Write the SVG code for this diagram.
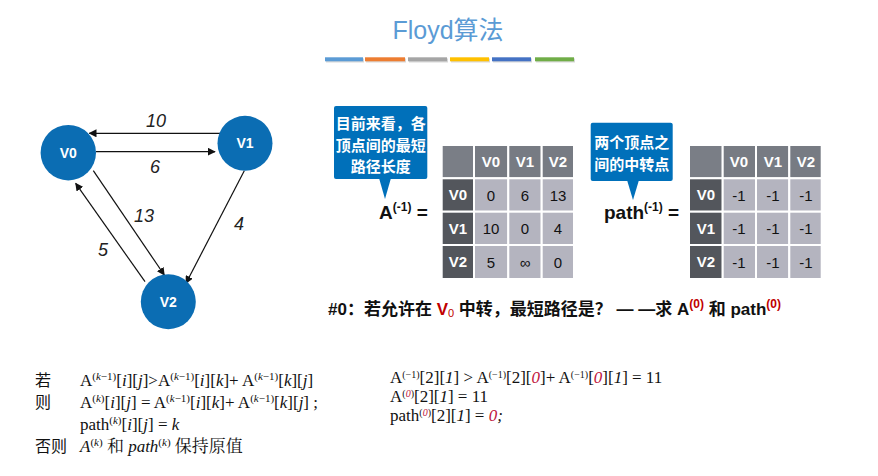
<svg xmlns="http://www.w3.org/2000/svg" width="878" height="476" viewBox="0 0 878 476">
<style>
.title{font-family:"Liberation Sans","Noto Sans CJK SC",sans-serif;font-size:25px;fill:#5B9BD5}
.node circle{fill:#0B6DB3}
.node text{font-family:"Liberation Sans",sans-serif;font-weight:bold;font-size:14px;fill:#fff;text-anchor:middle}
.edge{stroke:#111;stroke-width:1.2;fill:none;marker-end:url(#ah)}
.elab{font-family:"Liberation Sans",sans-serif;font-style:italic;font-size:18px;fill:#222;text-anchor:middle}
.call rect,.call path{fill:#0070BA}
.call text{font-family:"Noto Sans CJK SC",sans-serif;font-weight:bold;font-size:15px;fill:#fff;text-anchor:middle}
.eq{font-family:"Liberation Sans",sans-serif;font-weight:bold;font-size:19px;fill:#111}
.corner{fill:#7A7E86;stroke:#fff;stroke-width:2}
.ch{fill:#777B83;stroke:#fff;stroke-width:2}
.rh{fill:#53565C;stroke:#fff;stroke-width:2}
.cell{fill:#B4B4BF;stroke:#fff;stroke-width:2}
.th{font-family:"Liberation Sans",sans-serif;font-weight:bold;font-size:15px;fill:#fff;text-anchor:middle}
.td{font-family:"Liberation Sans",sans-serif;font-size:15px;fill:#111;text-anchor:middle}
.q{font-family:"Liberation Sans","Noto Sans CJK SC",sans-serif;font-weight:bold;font-size:17px;fill:#111}
.red{fill:#C00000}
.tm{font-family:"Liberation Serif","Noto Serif CJK SC","Noto Sans CJK SC",serif;font-size:17px;fill:#111}
.cj{font-family:"Noto Sans CJK SC",sans-serif;font-size:16px;fill:#111}
.it{font-style:italic}
.rr{fill:#C0143C}
</style>
<defs>
<marker id="ah" viewBox="0 0 10 10" refX="9" refY="5" markerWidth="8" markerHeight="8" markerUnits="userSpaceOnUse" orient="auto">
<path d="M0,0 L10,5 L0,10 z" fill="#111"/>
</marker>
</defs>
<rect width="878" height="476" fill="#fff"/>
<text class="title" x="448" y="39" text-anchor="middle">Floyd算法</text>
<g id="bars">
<g fill="#d8d8d8"><rect x="326" y="58.5" width="38" height="4"/><rect x="366" y="58.5" width="40" height="4"/><rect x="409" y="58.5" width="39" height="4"/><rect x="451" y="58.5" width="39" height="4"/><rect x="493" y="58.5" width="39" height="4"/><rect x="536" y="58.5" width="39" height="4"/></g>
<rect x="325" y="57.3" width="38" height="4" fill="#5B9BD5"/>
<rect x="365" y="57.3" width="40" height="4" fill="#ED7D31"/>
<rect x="408" y="57.3" width="39" height="4" fill="#A5A5A5"/>
<rect x="450" y="57.3" width="39" height="4" fill="#FFC000"/>
<rect x="492" y="57.3" width="39" height="4" fill="#4472C4"/>
<rect x="535" y="57.3" width="39" height="4" fill="#70AD47"/>
</g>
<g id="connectors">
<line class="edge" x1="222.7" y1="133.3" x2="89.3" y2="133.3"/>
<line class="edge" x1="96" y1="151.7" x2="215" y2="151.7"/>
<line class="edge" x1="93.3" y1="170.7" x2="164.3" y2="275"/>
<line class="edge" x1="145" y1="281.7" x2="75.7" y2="183.3"/>
<line class="edge" x1="244.3" y1="170.7" x2="186" y2="283.3"/>
<text class="elab" x="156" y="127">10</text>
<text class="elab" x="155" y="173">6</text>
<text class="elab" x="144" y="222">13</text>
<text class="elab" x="103" y="256">5</text>
<text class="elab" x="239" y="230">4</text>
</g>
<g id="V0" class="node"><circle cx="68.3" cy="152.7" r="27.7"/><text x="68.3" y="157.7">V0</text></g>
<g id="V1" class="node"><circle cx="245" cy="143.3" r="27.5"/><text x="245" y="148.3">V1</text></g>
<g id="V2" class="node"><circle cx="168.3" cy="301.7" r="27.5"/><text x="168.3" y="306.7">V2</text></g>
<g id="callout1" class="call">
<rect x="334" y="106" width="93.3" height="73" rx="2"/>
<path d="M379,178 L391,178 L385,199 z"/>
<text x="380.7" y="129">目前来看，各</text>
<text x="380.7" y="151">顶点间的最短</text>
<text x="380.7" y="172">路径长度</text>
</g>
<g id="callout2" class="call">
<rect x="590.7" y="122.7" width="82" height="58.3" rx="2"/>
<path d="M627,180 L639,180 L633,200 z"/>
<text x="631.7" y="148">两个顶点之</text>
<text x="631.7" y="170">间的中转点</text>
</g>
<text class="eq" x="379" y="219">A<tspan font-size="12" dy="-8">(-1)</tspan><tspan dy="8"> =</tspan></text>
<text class="eq" x="604" y="219">path<tspan font-size="12" dy="-8">(-1)</tspan><tspan dy="8"> =</tspan></text>
<g id="tableA">
<rect class="corner" x="441.7" y="145" width="32.3" height="33.3"/>
<rect class="ch" x="474" y="145" width="34.3" height="33.3"/>
<rect class="ch" x="508.3" y="145" width="33.4" height="33.3"/>
<rect class="ch" x="541.7" y="145" width="32.3" height="33.3"/>
<rect class="rh" x="441.7" y="178.3" width="32.3" height="33.4"/>
<rect class="rh" x="441.7" y="211.7" width="32.3" height="33.3"/>
<rect class="rh" x="441.7" y="245" width="32.3" height="34"/>
<g>
<rect class="cell" x="474" y="178.3" width="34.3" height="33.4"/><rect class="cell" x="508.3" y="178.3" width="33.4" height="33.4"/><rect class="cell" x="541.7" y="178.3" width="32.3" height="33.4"/>
<rect class="cell" x="474" y="211.7" width="34.3" height="33.3"/><rect class="cell" x="508.3" y="211.7" width="33.4" height="33.3"/><rect class="cell" x="541.7" y="211.7" width="32.3" height="33.3"/>
<rect class="cell" x="474" y="245" width="34.3" height="34"/><rect class="cell" x="508.3" y="245" width="33.4" height="34"/><rect class="cell" x="541.7" y="245" width="32.3" height="34"/>
</g>
<text class="th" x="491" y="167">V0</text><text class="th" x="525" y="167">V1</text><text class="th" x="558" y="167">V2</text>
<text class="th" x="458" y="200">V0</text><text class="th" x="458" y="234">V1</text><text class="th" x="458" y="267">V2</text>
<text class="td" x="491" y="200.5">0</text><text class="td" x="525" y="200.5">6</text><text class="td" x="558" y="200.5">13</text>
<text class="td" x="491" y="234">10</text><text class="td" x="525" y="234">0</text><text class="td" x="558" y="234">4</text>
<text class="td" x="491" y="267.5">5</text><text class="td" x="525" y="267.5">∞</text><text class="td" x="558" y="267.5">0</text>
</g>
<g id="tablePath">
<rect class="corner" x="689" y="145" width="33.7" height="33.3"/>
<rect class="ch" x="722.7" y="145" width="33.3" height="33.3"/>
<rect class="ch" x="756" y="145" width="33.3" height="33.3"/>
<rect class="ch" x="789.3" y="145" width="32.4" height="33.3"/>
<rect class="rh" x="689" y="178.3" width="33.7" height="33.4"/>
<rect class="rh" x="689" y="211.7" width="33.7" height="33.3"/>
<rect class="rh" x="689" y="245" width="33.7" height="34"/>
<g>
<rect class="cell" x="722.7" y="178.3" width="33.3" height="33.4"/><rect class="cell" x="756" y="178.3" width="33.3" height="33.4"/><rect class="cell" x="789.3" y="178.3" width="32.4" height="33.4"/>
<rect class="cell" x="722.7" y="211.7" width="33.3" height="33.3"/><rect class="cell" x="756" y="211.7" width="33.3" height="33.3"/><rect class="cell" x="789.3" y="211.7" width="32.4" height="33.3"/>
<rect class="cell" x="722.7" y="245" width="33.3" height="34"/><rect class="cell" x="756" y="245" width="33.3" height="34"/><rect class="cell" x="789.3" y="245" width="32.4" height="34"/>
</g>
<text class="th" x="739" y="167">V0</text><text class="th" x="773" y="167">V1</text><text class="th" x="806" y="167">V2</text>
<text class="th" x="706" y="200">V0</text><text class="th" x="706" y="234">V1</text><text class="th" x="706" y="267">V2</text>
<text class="td" x="739" y="200.5">-1</text><text class="td" x="773" y="200.5">-1</text><text class="td" x="806" y="200.5">-1</text>
<text class="td" x="739" y="234">-1</text><text class="td" x="773" y="234">-1</text><text class="td" x="806" y="234">-1</text>
<text class="td" x="739" y="267.5">-1</text><text class="td" x="773" y="267.5">-1</text><text class="td" x="806" y="267.5">-1</text>
</g>
<text class="q" x="328" y="315">#0：若允许在 <tspan class="red">V</tspan><tspan class="red" font-size="11" font-weight="normal" dy="2">0</tspan><tspan dy="-2"> 中转，最短路径是？ — —求 A</tspan><tspan class="red" font-size="12" dy="-7">(0)</tspan><tspan dy="7"> 和 path</tspan><tspan class="red" font-size="12" dy="-7">(0)</tspan></text>
<g id="rules">
<text class="cj" x="35" y="386">若</text>
<text class="cj" x="35" y="408">则</text>
<text class="cj" x="35" y="452">否则</text>
<text class="tm" x="80" y="386">A<tspan font-size="11" dy="-6">(<tspan class="it">k</tspan>−1)</tspan><tspan dy="6">[<tspan class="it">i</tspan>][<tspan class="it">j</tspan>]&gt;A</tspan><tspan font-size="11" dy="-6">(<tspan class="it">k</tspan>−1)</tspan><tspan dy="6">[<tspan class="it">i</tspan>][<tspan class="it">k</tspan>]+ A</tspan><tspan font-size="11" dy="-6">(<tspan class="it">k</tspan>−1)</tspan><tspan dy="6">[<tspan class="it">k</tspan>][<tspan class="it">j</tspan>]</tspan></text>
<text class="tm" x="80" y="408">A<tspan font-size="11" dy="-6">(<tspan class="it">k</tspan>)</tspan><tspan dy="6">[<tspan class="it">i</tspan>][<tspan class="it">j</tspan>] = A</tspan><tspan font-size="11" dy="-6">(<tspan class="it">k</tspan>−1)</tspan><tspan dy="6">[<tspan class="it">i</tspan>][<tspan class="it">k</tspan>]+ A</tspan><tspan font-size="11" dy="-6">(<tspan class="it">k</tspan>−1)</tspan><tspan dy="6">[<tspan class="it">k</tspan>][<tspan class="it">j</tspan>] ;</tspan></text>
<text class="tm" x="80" y="430">path<tspan font-size="11" dy="-6">(<tspan class="it">k</tspan>)</tspan><tspan dy="6">[<tspan class="it">i</tspan>][<tspan class="it">j</tspan>] = <tspan class="it">k</tspan></tspan></text>
<text class="tm" x="80" y="452"><tspan class="it">A</tspan><tspan font-size="11" dy="-6">(<tspan class="it">k</tspan>)</tspan><tspan dy="6"> 和 <tspan class="it">path</tspan></tspan><tspan font-size="11" dy="-6">(<tspan class="it">k</tspan>)</tspan><tspan dy="6"> 保持原值</tspan></text>
</g>
<g id="example">
<text class="tm" x="390" y="382.5" font-size="16">A<tspan font-size="10" dy="-5">(−1)</tspan><tspan dy="5">[2][<tspan class="it">1</tspan>] &gt; A</tspan><tspan font-size="10" dy="-5">(−1)</tspan><tspan dy="5">[2][<tspan class="it rr">0</tspan>]+ A</tspan><tspan font-size="10" dy="-5">(−1)</tspan><tspan dy="5">[<tspan class="it rr">0</tspan>][<tspan class="it">1</tspan>] = 11</tspan></text>
<text class="tm" x="390" y="402" font-size="16">A<tspan font-size="10" dy="-5">(<tspan class="it rr">0</tspan>)</tspan><tspan dy="5">[2][<tspan class="it">1</tspan>] = 11</tspan></text>
<text class="tm" x="390" y="421" font-size="16">path<tspan font-size="10" dy="-5">(<tspan class="it rr">0</tspan>)</tspan><tspan dy="5">[2][<tspan class="it">1</tspan>] = <tspan class="it rr">0</tspan><tspan class="it">;</tspan></tspan></text>
</g>
</svg>
